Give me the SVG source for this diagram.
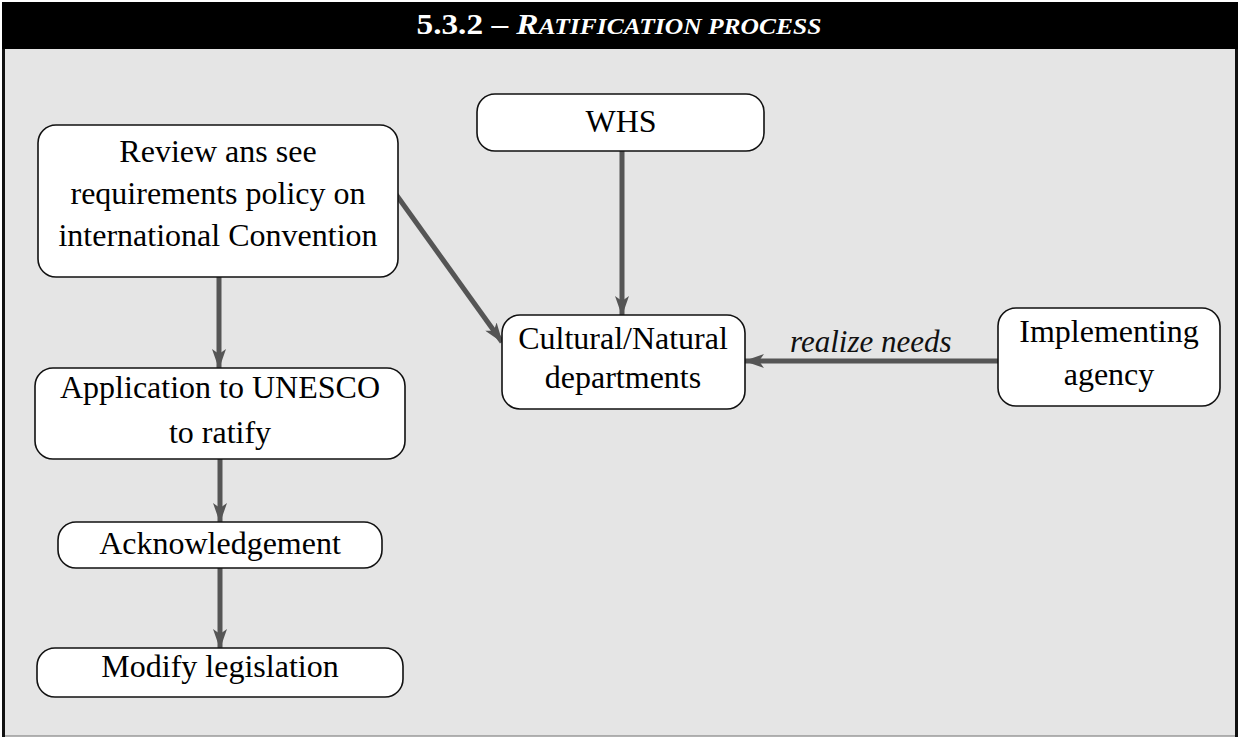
<svg xmlns="http://www.w3.org/2000/svg" width="1238" height="737" viewBox="0 0 1238 737">
<style>
.node rect{fill:#fff;stroke:#111;stroke-width:1.6}
.node text{font-family:"Liberation Serif","Times New Roman",serif;font-size:32px;fill:#000;text-anchor:middle}
.conn line{stroke:#555;stroke-width:5;fill:none}
.lbl{font-family:"Liberation Serif","Times New Roman",serif;font-size:31px;font-style:italic;fill:#111}
</style>
<defs>
<marker id="ah" viewBox="0 0 20 14" refX="19" refY="7" markerWidth="20" markerHeight="14" markerUnits="userSpaceOnUse" orient="auto">
<path d="M0,0 L20,7 L0,14 L5,7 Z" fill="#555"/>
</marker>
</defs>
<rect x="0" y="0" width="1238" height="737" fill="#fff"/>
<rect x="4" y="48" width="1231" height="688" fill="#e5e5e5" stroke="none"/>
<line x1="4" y1="736" x2="1235" y2="736" stroke="#999" stroke-width="1.5"/>
<rect x="2" y="2" width="3" height="735" fill="#111"/>
<rect x="1235" y="2" width="3" height="735" fill="#111"/>
<rect x="2" y="2" width="1236" height="47" fill="#000"/>
<text x="619" y="34" text-anchor="middle" font-family="Liberation Serif, Times New Roman, serif" font-weight="bold" fill="#fff" font-size="30" textLength="405" lengthAdjust="spacingAndGlyphs">5.3.2 – <tspan font-style="italic">R</tspan><tspan font-style="italic" font-size="23">ATIFICATION PROCESS</tspan></text>

<g class="conn">
<line x1="219" y1="277" x2="219" y2="368" marker-end="url(#ah)"/>
<line x1="220" y1="459" x2="220" y2="522" marker-end="url(#ah)"/>
<line x1="220" y1="568" x2="220" y2="648" marker-end="url(#ah)"/>
<line x1="395" y1="193" x2="502" y2="342" marker-end="url(#ah)"/>
<line x1="622" y1="151" x2="622" y2="315" marker-end="url(#ah)"/>
<line x1="998" y1="361" x2="745" y2="361" marker-end="url(#ah)"/>
<text class="lbl" x="790" y="352">realize needs</text>
</g>

<g id="review" class="node">
<rect x="38" y="125" width="360" height="152" rx="18"/>
<text x="218" y="162">Review ans see</text>
<text x="218" y="204">requirements policy on</text>
<text x="218" y="246">international Convention</text>
</g>
<g id="whs" class="node">
<rect x="477" y="94" width="287" height="57" rx="18"/>
<text x="621" y="132">WHS</text>
</g>
<g id="cultural" class="node">
<rect x="502" y="315" width="243" height="94" rx="18"/>
<text x="623" y="349">Cultural/Natural</text>
<text x="623" y="388">departments</text>
</g>
<g id="implementing" class="node">
<rect x="998" y="308" width="222" height="98" rx="18"/>
<text x="1109" y="342">Implementing</text>
<text x="1109" y="385">agency</text>
</g>
<g id="application" class="node">
<rect x="35" y="368" width="370" height="91" rx="18"/>
<text x="220" y="398">Application to UNESCO</text>
<text x="220" y="443">to ratify</text>
</g>
<g id="ack" class="node">
<rect x="58" y="522" width="324" height="46" rx="18"/>
<text x="220" y="554">Acknowledgement</text>
</g>
<g id="modify" class="node">
<rect x="37" y="648" width="366" height="49" rx="18"/>
<text x="220" y="677">Modify legislation</text>
</g>
</svg>
